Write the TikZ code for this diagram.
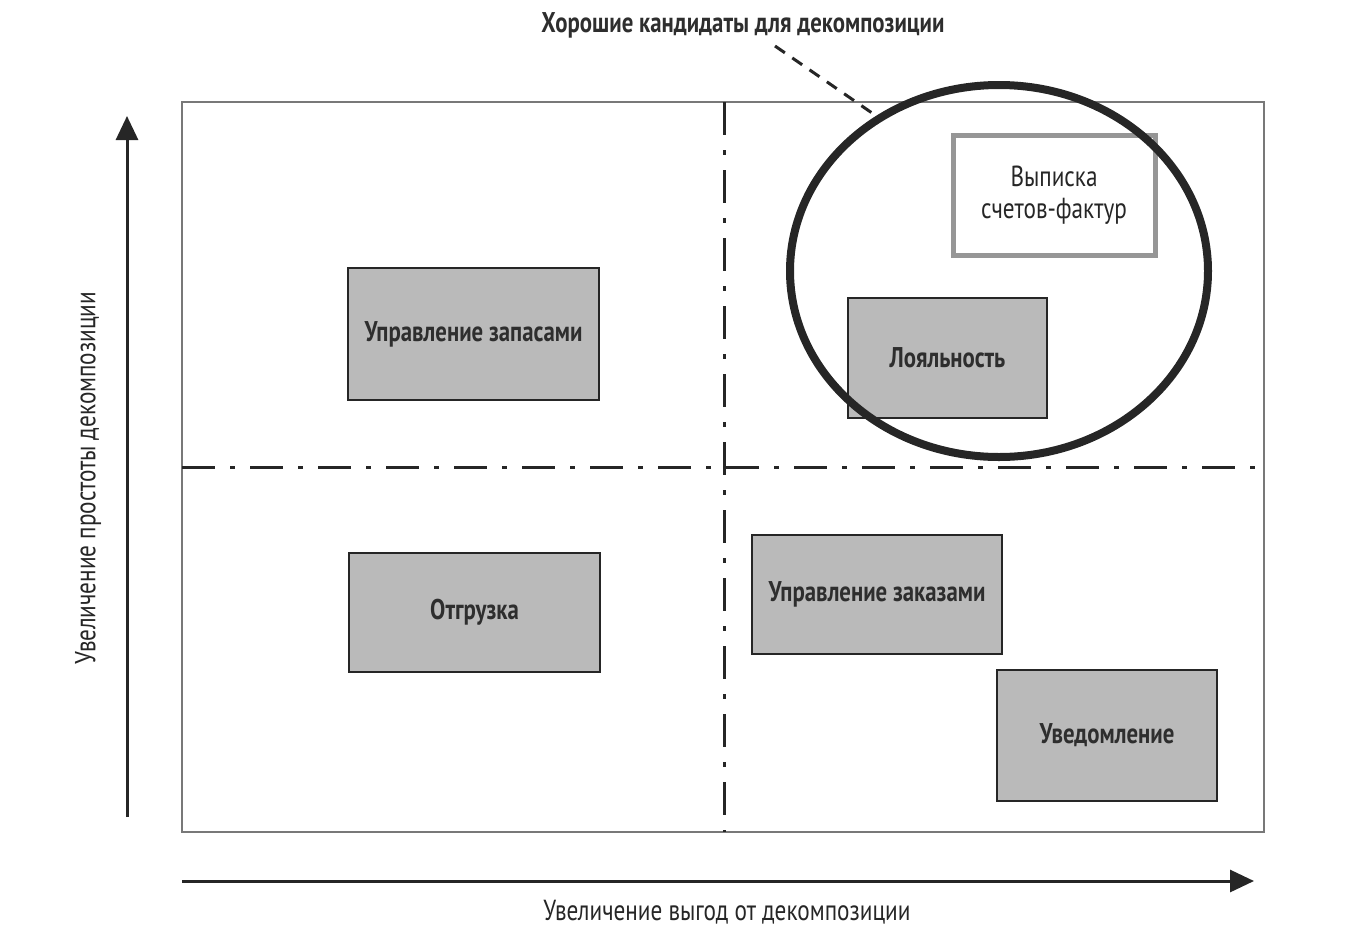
\documentclass[tikz,border=0pt]{standalone}
\usepackage{fontspec}
\setmainfont{PT Sans}[FakeStretch=0.8]
\usetikzlibrary{shapes.geometric,arrows.meta}
\definecolor{boxgray}{RGB}{186,186,186}
\definecolor{framegray}{RGB}{120,120,120}
\definecolor{invgray}{RGB}{150,150,150}
\tikzset{
  lbl/.style={font=\fontsize{28.5}{30}\selectfont\bfseries, inner sep=0pt, text=black!82},
  axlbl/.style={font=\fontsize{29}{30}\selectfont, inner sep=0pt, text=black!85},
  graybox/.style={draw=black!85, line width=2.6pt, fill=boxgray, inner sep=0pt, font=\fontsize{28.5}{30}\selectfont\bfseries, text=black!82},
  whitebox/.style={draw=invgray, line width=5pt, fill=white, inner sep=0pt, font=\fontsize{29}{32}\selectfont, align=center, text=black!85},
  quad/.style={line width=3pt, black!85, dash pattern=on 33pt off 15pt on 5pt off 15pt},
  axis/.style={line width=3pt, black!85, -{Triangle[length=24pt,width=22pt]}},
}
\begin{document}
\begin{tikzpicture}[x=1pt,y=-1pt]
\useasboundingbox (0,0) rectangle (1370,940);
% frame
\draw[framegray, line width=2.2pt] (182,102) rectangle (1264,832);
% quadrant lines
\coordinate (vt) at (724,102);
\coordinate (vb) at (724,832);
\coordinate (hl) at (182,467);
\coordinate (hr) at (1264,467);
\draw[quad] (vt) -- (vb);
\draw[quad] (hl) -- (hr);
% axes
\coordinate (ya) at (127,817);
\coordinate (yb) at (127,116);
\coordinate (xa) at (182,881);
\coordinate (xb) at (1254,881);
\draw[axis] (ya) -- (yb);
\draw[axis] (xa) -- (xb);
\node[axlbl, rotate=90] (ylab) at (88,478) {Увеличение простоты декомпозиции};
\node[axlbl] (xlab) at (727,912) {Увеличение выгод от декомпозиции};
% boxes
\node[graybox, minimum width=251pt, minimum height=132pt] (zap) at (473.5,334) {Управление запасами};
\node[graybox, minimum width=251pt, minimum height=119pt] (otg) at (474.5,612.5) {Отгрузка};
\node[graybox, minimum width=250pt, minimum height=119pt] (zak) at (877,594.5) {Управление заказами};
\node[graybox, minimum width=220pt, minimum height=131pt] (uved) at (1107,735.5) {Уведомление};
\node[graybox, minimum width=199pt, minimum height=120pt] (loy) at (947.5,358) {Лояльность};
\node[whitebox, minimum width=202pt, minimum height=120pt] (vyp) at (1054,195) {Выписка\\счетов-фактур};
% ellipse
\node[ellipse, draw=black!85, line width=8pt, minimum width=418pt, minimum height=372pt, inner sep=0pt, outer sep=0pt] (ell) at (999,271) {};
% top label
\node[lbl] (top) at (743,25) {Хорошие кандидаты для декомпозиции};
\coordinate (dstart) at (775,46);
\draw[black!85, line width=3pt, dash pattern=on 12pt off 9pt] (dstart) -- (ell.128);
\end{tikzpicture}
\end{document}
